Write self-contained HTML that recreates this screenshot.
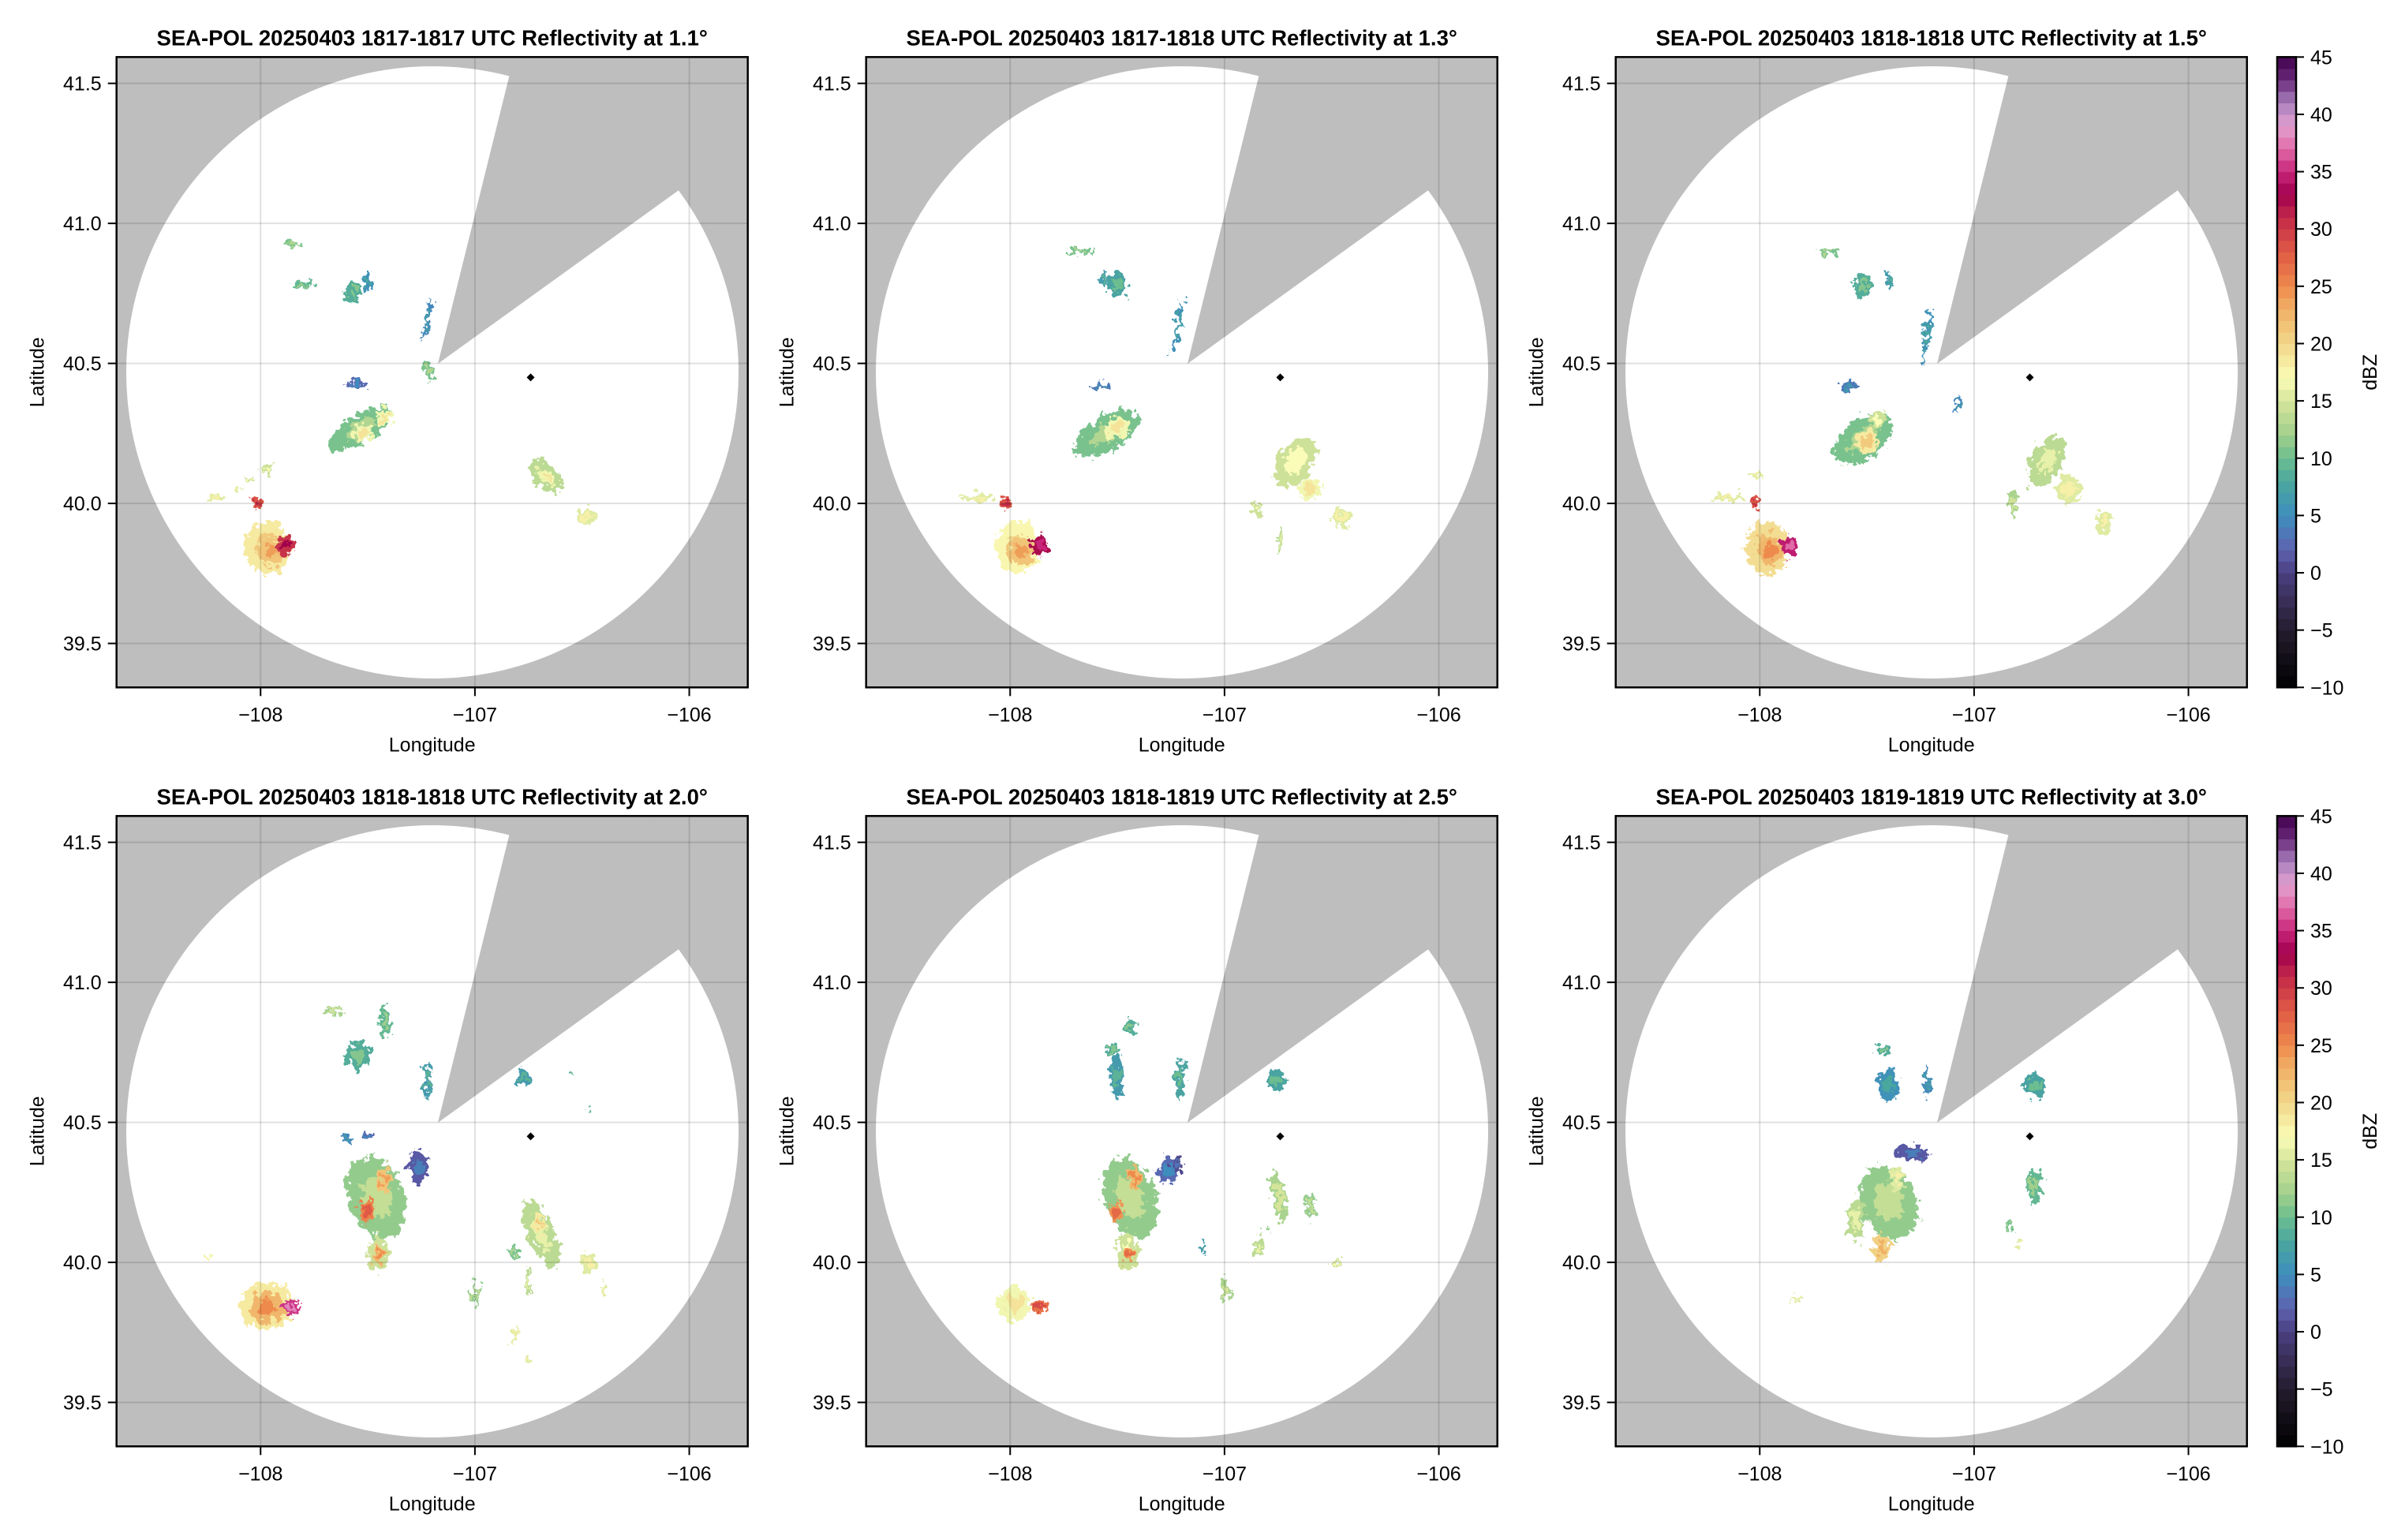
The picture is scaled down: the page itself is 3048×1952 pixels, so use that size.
<!DOCTYPE html>
<html><head><meta charset="utf-8"><style>
html,body{margin:0;padding:0;background:#fff;}
svg{display:block;font-family:"Liberation Sans",sans-serif;}
</style></head><body>
<svg id="fig" width="3048" height="1952" viewBox="0 0 3048 1952" xmlns="http://www.w3.org/2000/svg">
<defs>
<filter id="rough" x="-30%" y="-30%" width="160%" height="160%">
<feTurbulence type="fractalNoise" baseFrequency="0.12" numOctaves="3" seed="3" result="n"/>
<feDisplacementMap in="SourceGraphic" in2="n" scale="22" xChannelSelector="R" yChannelSelector="G"/>
</filter>
</defs>
</svg>
<script>
// ---- data ----
const titles = [
 "SEA-POL 20250403 1817-1817 UTC Reflectivity at 1.1°",
 "SEA-POL 20250403 1817-1818 UTC Reflectivity at 1.3°",
 "SEA-POL 20250403 1818-1818 UTC Reflectivity at 1.5°",
 "SEA-POL 20250403 1818-1818 UTC Reflectivity at 2.0°",
 "SEA-POL 20250403 1818-1819 UTC Reflectivity at 2.5°",
 "SEA-POL 20250403 1819-1819 UTC Reflectivity at 3.0°"];
const lonTicks = [-108, -107, -106];
const latTicks = [41.5, 41.0, 40.5, 40.0, 39.5];
const cbTicks = [-10, -5, 0, 5, 10, 15, 20, 25, 30, 35, 40, 45];
const radarLon = -106.74, radarLat = 40.45;
// echo cells per panel: [lon, lat, radiusLon, radiusLat, angleDeg, dBZ]
const cells1 = [
 [-107.97,39.84,0.105,0.095,0,20],[-107.95,39.83,0.06,0.05,0,23],[-107.884,39.852,0.04,0.032,0,32],
 [-108.02,40.0,0.028,0.02,0,30],[-108.21,40.02,0.04,0.012,0,17],[-108.11,40.05,0.02,0.012,0,17],
 [-108.06,40.08,0.015,0.01,0,16],[-107.97,40.12,0.03,0.015,0,16],
 [-107.536,40.266,0.17,0.05,-32,12],[-107.52,40.25,0.05,0.03,-32,18],[-107.42,40.31,0.04,0.03,0,18],
 [-107.553,40.425,0.05,0.012,0,4],[-107.224,40.654,0.012,0.08,10,6],[-107.22,40.476,0.03,0.03,0,12],
 [-107.571,40.75,0.035,0.04,0,10],[-107.50,40.79,0.02,0.03,0,7],[-107.806,40.782,0.06,0.012,0,11],
 [-107.85,40.93,0.04,0.008,0,12],[-106.67,40.10,0.1,0.04,40,15],[-106.66,40.09,0.05,0.02,40,18],
 [-106.48,39.953,0.05,0.025,0,17]];
const cells2 = [
 [-107.965,39.844,0.1,0.095,0,19],[-107.95,39.83,0.06,0.05,0,23],[-107.86,39.85,0.04,0.035,0,34],
 [-108.02,40.0,0.025,0.02,0,30],[-108.15,40.02,0.08,0.012,0,17],
 [-107.55,40.25,0.17,0.06,-32,12],[-107.5,40.27,0.06,0.04,-32,18],[-107.58,40.42,0.05,0.012,0,5],
 [-107.22,40.63,0.012,0.1,10,7],[-107.50,40.78,0.04,0.045,0,9],[-107.68,40.90,0.06,0.012,0,12],
 [-107.56,40.80,0.02,0.03,0,8],[-106.67,40.15,0.08,0.1,30,16],[-106.6,40.05,0.05,0.04,0,18],
 [-106.45,39.95,0.05,0.03,0,17],[-106.74,39.87,0.015,0.04,0,15],[-106.85,39.98,0.03,0.02,0,16]];
const cells3 = [
 [-107.965,39.844,0.1,0.095,0,21],[-107.95,39.83,0.06,0.05,0,24],[-107.86,39.85,0.04,0.035,0,36],
 [-108.02,40.0,0.025,0.02,0,30],[-108.15,40.02,0.08,0.012,0,17],[-108.02,40.1,0.03,0.01,0,17],
 [-107.52,40.23,0.16,0.07,-40,12],[-107.5,40.22,0.06,0.04,-40,20],[-107.45,40.3,0.04,0.03,0,16],
 [-107.58,40.42,0.04,0.015,0,5],[-107.22,40.60,0.012,0.1,10,7],[-107.52,40.78,0.04,0.045,0,10],
 [-107.68,40.90,0.05,0.012,0,12],[-107.40,40.80,0.015,0.03,0,8],
 [-106.66,40.15,0.07,0.1,30,15],[-106.56,40.05,0.06,0.05,0,17],[-106.4,39.93,0.04,0.04,0,17],
 [-106.82,40.0,0.02,0.05,0,14],[-107.08,40.35,0.01,0.03,0,6]];
const cells4 = [
 [-107.97,39.844,0.125,0.085,0,20],[-107.97,39.84,0.08,0.055,0,24],[-107.857,39.84,0.035,0.03,0,37],
 [-107.46,40.23,0.13,0.15,-20,13],[-107.505,40.184,0.035,0.04,0,27],[-107.42,40.296,0.03,0.05,0,23],
 [-107.45,40.03,0.05,0.06,0,16],[-107.448,40.027,0.025,0.03,0,24],[-107.265,40.34,0.045,0.06,0,3],
 [-107.547,40.739,0.06,0.05,0,10],[-107.42,40.857,0.025,0.06,0,11],[-107.66,40.9,0.05,0.012,0,14],
 [-107.223,40.654,0.015,0.07,0,8],[-107.505,40.447,0.02,0.015,0,4],[-107.6,40.44,0.025,0.01,0,6],
 [-106.69,40.10,0.06,0.13,-25,15],[-106.70,40.14,0.025,0.04,0,20],[-106.47,40.0,0.04,0.035,0,17],
 [-106.815,40.038,0.02,0.03,0,12],[-106.75,39.93,0.012,0.05,0,15],[-106.998,39.892,0.015,0.045,0,13],
 [-106.815,39.74,0.01,0.04,15,17],[-106.75,39.65,0.015,0.015,0,17],[-106.4,39.9,0.015,0.03,0,17],
 [-106.772,40.663,0.03,0.03,0,8],[-106.56,40.67,0.02,0.005,0,10],[-106.47,40.55,0.015,0.006,0,10],
 [-108.25,40.02,0.02,0.008,0,18]];
const cells5 = [
 [-107.98,39.85,0.08,0.06,0,18],[-107.864,39.84,0.03,0.025,0,28],
 [-107.44,40.23,0.12,0.15,-20,13],[-107.505,40.18,0.03,0.035,0,26],[-107.42,40.30,0.025,0.05,0,24],
 [-107.45,40.04,0.05,0.07,0,16],[-107.448,40.027,0.025,0.03,0,26],[-107.265,40.33,0.05,0.05,0,4],
 [-107.22,40.35,0.02,0.03,0,2],[-107.505,40.663,0.03,0.08,0,8],[-107.44,40.84,0.03,0.03,0,10],
 [-107.52,40.76,0.04,0.015,0,10],[-107.21,40.66,0.02,0.08,0,9],[-106.76,40.65,0.04,0.04,0,9],
 [-106.744,40.232,0.03,0.1,-10,14],[-106.60,40.20,0.02,0.05,0,13],[-106.84,40.06,0.025,0.035,0,15],
 [-107.0,39.90,0.02,0.05,0,14],[-106.47,40.0,0.025,0.012,0,16],[-107.1,40.05,0.015,0.025,30,8],
 [-106.80,40.12,0.02,0.015,0,13]];
const cells6 = [
 [-107.398,40.214,0.13,0.14,-20,13],[-107.43,40.05,0.04,0.05,0,22],[-107.36,40.30,0.03,0.05,0,17],
 [-107.29,40.39,0.08,0.03,0,3],[-107.40,40.63,0.05,0.06,0,7],[-107.43,40.76,0.03,0.02,0,10],
 [-107.22,40.65,0.015,0.06,0,6],[-106.72,40.63,0.05,0.04,0,9],[-106.72,40.27,0.03,0.07,0,11],
 [-106.83,40.13,0.02,0.02,0,12],[-106.79,40.06,0.015,0.015,0,17],[-107.83,39.87,0.02,0.01,0,17],
 [-107.55,40.15,0.04,0.08,0,15]];
const panelCells = [cells1, cells2, cells3, cells4, cells5, cells6];

// ---- colormap ----
const cstops = [[-10,"#000000"],[-5,"#241c2e"],[0,"#4b3f80"],[2,"#5e62b0"],[5,"#3e8ebd"],[8,"#4aa79d"],
 [10,"#6cbd8f"],[12,"#a0cf8c"],[15,"#d6e59a"],[17,"#fafcb8"],[20,"#f1d78a"],[23,"#f0b166"],[25,"#ee8a4c"],
 [28,"#e05a45"],[31,"#c22a4a"],[33,"#a0004e"],[35,"#c8257a"],[37,"#e06aa8"],[39,"#e3a0d0"],[41,"#a880bc"],
 [43,"#6a2a7a"],[45,"#40004e"]];
function hx(c){return [parseInt(c.substr(1,2),16),parseInt(c.substr(3,2),16),parseInt(c.substr(5,2),16)];}
function cmap(v){
  v=Math.max(-10,Math.min(45,v));
  for(let i=0;i<cstops.length-1;i++){
    const a=cstops[i],b=cstops[i+1];
    if(v<=b[0]){const t=(v-a[0])/(b[0]-a[0]);const A=hx(a[1]),B=hx(b[1]);
      return "rgb("+A.map((x,k)=>Math.round(x+(B[k]-x)*t)).join(",")+")";}
  }
  return cstops[cstops.length-1][1];
}

// ---- drawing ----
const NS="http://www.w3.org/2000/svg";
const svg=document.getElementById("fig");
function el(tag,attrs,parent){const e=document.createElementNS(NS,tag);for(const k in attrs)e.setAttribute(k,attrs[k]);(parent||svg).appendChild(e);return e;}
const W=800,H=799,X0=147.7,Y0=72.3,DX=950,DY=962;
const lonMin=-108.672,lonMax=-105.727,latMin=39.343,latMax=41.594;
function makeX(ox){return lon=>ox+(lon-lonMin)/(lonMax-lonMin)*W;}
function makeY(oy){return lat=>oy+(latMax-lat)/(latMax-latMin)*H;}

for(let p=0;p<6;p++){
  const col=p%3,row=Math.floor(p/3);
  const ox=X0+col*DX, oy=Y0+row*DY;
  const xs=makeX(ox), ys=makeY(oy);
  const g=el("g",{});
  
  
  const clipId="clip"+p;
  const cp=el("clipPath",{id:clipId},g);el("rect",{x:ox,y:oy,width:W,height:H},cp);
  const bg=el("rect",{x:ox,y:oy,width:W,height:H,fill:"#bebebe"},g);
  
  
  const cx=ox+400.3, cy=oy+399.7, r=388;
  const circ=el("ellipse",{cx:cx,cy:cy,rx:r,ry:r,fill:"#fff","clip-path":"url(#"+clipId+")"},g);
  
  
  // blocked wedge (extended beyond circle)
  const ax=ox+407.3, ay=oy+388.7;
  const p1x=ox+497.3,p1y=oy+25.7,p2x=ox+711.3,p2y=oy+169.7;
  const k=1.35;
  const q1x=ax+(p1x-ax)*k,q1y=ay+(p1y-ay)*k,q2x=ax+(p2x-ax)*k,q2y=ay+(p2y-ay)*k;
  const wedge=el("path",{d:`M${ax},${ay} L${q1x},${q1y} L${q2x},${q2y} Z`,fill:"#bebebe","clip-path":"url(#"+clipId+")"},g);
  
  
  // echoes
  const eg=el("g",{filter:"url(#rough)","clip-path":"url(#"+clipId+")"},g);
  
  
  panelCells[p].forEach((c,i)=>{
    const ex=xs(c[0]),ey=ys(c[1]);
    const rx=c[2]*W/(lonMax-lonMin), ry=c[3]*H/(latMax-latMin);
    const e=el("ellipse",{cx:ex,cy:ey,rx:rx,ry:ry,transform:`rotate(${c[4]} ${ex} ${ey})`,fill:cmap(c[5]-1.5)},eg);
    
    
    const e2=el("ellipse",{cx:ex,cy:ey,rx:rx*0.5,ry:ry*0.5,transform:`rotate(${c[4]} ${ex} ${ey})`,fill:cmap(c[5]+1)},eg);
    
    
  });
  // grid
  lonTicks.forEach(v=>{const l=el("line",{x1:xs(v),x2:xs(v),y1:oy,y2:oy+H,stroke:"rgba(0,0,0,0.12)","stroke-width":2},g);
    });
  latTicks.forEach(v=>{const l=el("line",{x1:ox,x2:ox+W,y1:ys(v),y2:ys(v),stroke:"rgba(0,0,0,0.12)","stroke-width":2},g);
    });
  // radar marker
  const rx0=xs(radarLon),ry0=ys(radarLat);
  const mk=el("path",{d:`M${rx0},${ry0-5} L${rx0+5},${ry0} L${rx0},${ry0+5} L${rx0-5},${ry0} Z`,fill:"#000"},g);
  
  
  // frame
  const fr=el("rect",{x:ox,y:oy,width:W,height:H,fill:"none",stroke:"#000","stroke-width":2.5},g);
  
  
  // ticks & labels
  lonTicks.forEach(v=>{
    const t=el("line",{x1:xs(v),x2:xs(v),y1:oy+H,y2:oy+H+11,stroke:"#000","stroke-width":2},g);
    
    const tx=el("text",{x:xs(v),y:oy+842,"font-size":25,"text-anchor":"middle"},g);
    tx.textContent="\u2212"+Math.abs(v);
    
  });
  latTicks.forEach(v=>{
    const t=el("line",{x1:ox-11,x2:ox,y1:ys(v),y2:ys(v),stroke:"#000","stroke-width":2},g);
    
    const tx=el("text",{x:ox-19,y:ys(v)+9,"font-size":25,"text-anchor":"end"},g);
    tx.textContent=v.toFixed(1);
    
  });
  const xl=el("text",{x:ox+W/2,y:oy+880,"font-size":25,"text-anchor":"middle"},g);
  xl.textContent="Longitude";
  
  const yl=el("text",{x:0,y:0,"font-size":25,"text-anchor":"middle",transform:`translate(${ox-92},${oy+H/2}) rotate(-90)`},g);
  yl.textContent="Latitude";
  
  const tt=el("text",{x:ox+W/2,y:oy-15,"font-size":27.5,"font-weight":"bold","text-anchor":"middle"},g);
  tt.textContent=titles[p];
  
}

// ---- colorbars ----
for(let row=0;row<2;row++){
  const oy=Y0+row*DY, bx=2886, bw=24, bh=H;
  const cg=el("g",{});
  
  
  const cy=v=>oy+(45-v)/55*bh;
  for(let v=-10;v<45;v++){
    const s=el("rect",{x:bx,y:cy(v+1),width:bw,height:cy(v)-cy(v+1)+0.6,fill:cmap(v+0.5)},cg);
    
    
  }
  const f=el("rect",{x:bx,y:oy,width:bw,height:bh,fill:"none",stroke:"#000","stroke-width":2.5},cg);
  
  cbTicks.forEach(v=>{
    const t=el("line",{x1:bx+bw,x2:bx+bw+10,y1:cy(v),y2:cy(v),stroke:"#000","stroke-width":2},cg);
    
    const tx=el("text",{x:bx+bw+18,y:cy(v)+9,"font-size":25},cg);
    tx.textContent=(v<0?"\u2212":"")+Math.abs(v);
    
  });
  const lb=el("text",{x:0,y:0,"font-size":25,"text-anchor":"middle",transform:`translate(${3012},${oy+bh/2}) rotate(-90)`},cg);
  lb.textContent="dBZ";
  
}
</script>
</body></html>
